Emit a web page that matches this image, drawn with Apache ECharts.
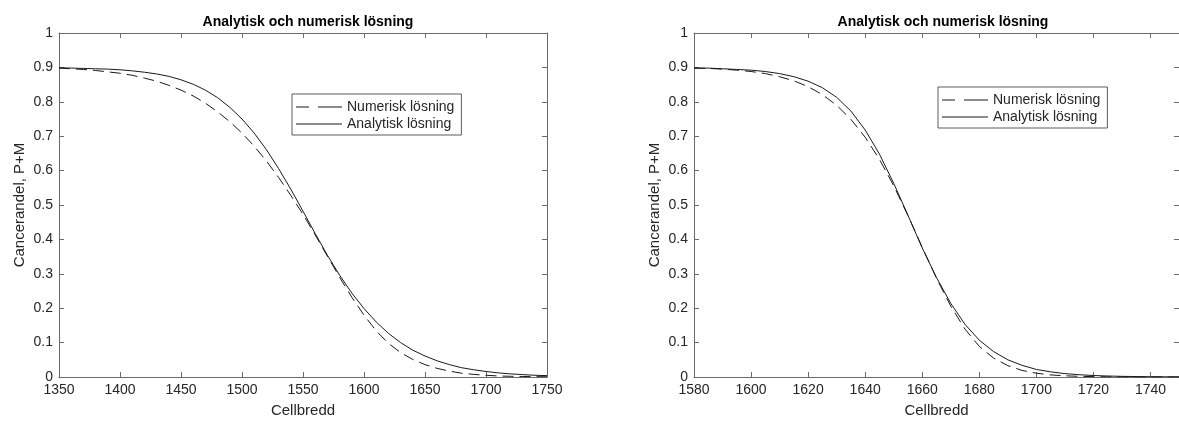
<!DOCTYPE html>
<html>
<head>
<meta charset="utf-8">
<script src="https://cdn.jsdelivr.net/npm/echarts@6/dist/echarts.min.js"></script>
<style>
html,body{margin:0;padding:0;background:#fff;}
#chart{width:1179px;height:423px;}
</style>
</head>
<body>
<div id="chart"></div>
<script>
// ---- data ----
const titleText = 'Analytisk och numerisk lösning';
const xName = 'Cellbredd';
const yName = 'Cancerandel, P+M';
const seriesNames = ['Numerisk lösning', 'Analytisk lösning'];

// left panel
const xLeft = [1350,1360,1370,1380,1390,1400,1410,1420,1430,1440,1450,1460,1470,1480,1490,1500,1510,1520,1530,1540,1550,1560,1570,1580,1590,1600,1610,1620,1630,1640,1650,1660,1670,1680,1690,1700,1710,1720,1730,1740,1750];
const numLeft = [0.898,0.896,0.894,0.891,0.887,0.883,0.877,0.869,0.860,0.848,0.834,0.817,0.796,0.771,0.742,0.709,0.671,0.628,0.580,0.528,0.473,0.413,0.351,0.290,0.232,0.180,0.134,0.098,0.071,0.051,0.036,0.025,0.017,0.011,0.0075,0.005,0.003,0.002,0.0015,0.001,0.0007];
const anaLeft = [0.899,0.898,0.897,0.896,0.895,0.893,0.890,0.886,0.881,0.874,0.864,0.851,0.834,0.812,0.784,0.750,0.709,0.661,0.606,0.546,0.482,0.417,0.354,0.296,0.244,0.199,0.160,0.127,0.100,0.078,0.061,0.047,0.036,0.027,0.021,0.016,0.012,0.009,0.007,0.005,0.004];

// right panel
const xRight = [1580,1585,1590,1595,1600,1605,1610,1615,1620,1625,1630,1635,1640,1645,1650,1655,1660,1665,1670,1675,1680,1685,1690,1695,1700,1705,1710,1715,1720,1725,1730,1735,1740,1745,1750];
const numRight = [0.898,0.897,0.895,0.892,0.888,0.882,0.873,0.861,0.844,0.821,0.790,0.749,0.697,0.633,0.556,0.469,0.377,0.287,0.206,0.139,0.089,0.055,0.033,0.019,0.011,0.006,0.0035,0.002,0.0011,0.0006,0.0003,0.0002,0.0001,0.0001,0.0000];
const anaRight = [0.898,0.898,0.896,0.894,0.892,0.888,0.882,0.873,0.860,0.841,0.813,0.773,0.718,0.648,0.563,0.470,0.375,0.289,0.214,0.153,0.107,0.074,0.050,0.034,0.022,0.015,0.0099,0.0066,0.0043,0.0029,0.0019,0.0013,0.0008,0.0006,0.0004];

const yTicks = {min:0, max:1, interval:0.1};
const xLeftRange = {min:1350, max:1750, interval:50};
const xRightRange = {min:1580, max:1750, interval:20};

// ---- chart ----
const FONT = '"Liberation Sans", Arial, Helvetica, sans-serif';
const AXIS = '#6a6a6a';
const TXT = '#262626';
const grids = [
  {left:59, top:33, width:488, height:347},
  {left:694, top:33, width:488, height:347}
];
function pairs(xs, ys){ return xs.map((x,i)=>[x, ys[i]]); }

const xAxes = [], yAxes = [];
[xLeftRange, xRightRange].forEach((r, gi) => {
  xAxes.push({
    type:'value', gridIndex:gi, position:'bottom', min:r.min, max:r.max, interval:r.interval,
    name:xName, nameLocation:'middle', nameGap:26,
    nameTextStyle:{fontFamily:FONT, fontSize:15, color:TXT},
    axisLine:{show:true, onZero:false, lineStyle:{color:AXIS, width:1}},
    axisTick:{show:true, inside:true, length:5, lineStyle:{color:AXIS}},
    axisLabel:{fontFamily:FONT, fontSize:14, color:TXT, margin:6, showMaxLabel: gi===0, formatter:v=>String(v)},
    splitLine:{show:false}
  });
  xAxes.push({
    type:'value', gridIndex:gi, position:'top', min:r.min, max:r.max, interval:r.interval,
    axisLine:{show:true, onZero:false, lineStyle:{color:AXIS, width:1}},
    axisTick:{show:true, inside:true, length:5, lineStyle:{color:AXIS}},
    axisLabel:{show:false}, splitLine:{show:false}
  });
  yAxes.push({
    type:'value', gridIndex:gi, position:'left', min:yTicks.min, max:yTicks.max, interval:yTicks.interval,
    name:yName, nameLocation:'middle', nameGap:32,
    nameTextStyle:{fontFamily:FONT, fontSize:15, color:TXT},
    axisLine:{show:true, onZero:false, lineStyle:{color:AXIS, width:1}},
    axisTick:{show:true, inside:true, length:5, lineStyle:{color:AXIS}},
    axisLabel:{fontFamily:FONT, fontSize:14, color:TXT, margin:6, formatter:v=>String(Math.round(v*10)/10)},
    splitLine:{show:false}
  });
  yAxes.push({
    type:'value', gridIndex:gi, position:'right', min:yTicks.min, max:yTicks.max, interval:yTicks.interval,
    axisLine:{show:true, onZero:false, lineStyle:{color:AXIS, width:1}},
    axisTick:{show:true, inside:true, length:5, lineStyle:{color:AXIS}},
    axisLabel:{show:false}, splitLine:{show:false}
  });
});

function mkSeries(name, data, gi, dashed){
  return {
    type:'line', name:name, data:data, xAxisIndex:gi*2, yAxisIndex:gi*2,
    symbol:'none', smooth:false,
    lineStyle:{color:'#1a1a1a', width:1, type: dashed ? [11,6] : 'solid'},
    itemStyle:{color:'#1a1a1a'},
    emphasis:{disabled:true}, animation:false
  };
}

const DASH_ICON = 'path://M0,0h13v1h-13z M22,0h24v1h-24z';
const SOLID_ICON = 'path://M0,0h46v1h-46z';
function mkLegend(left, top){
  return {
    data:[{name:seriesNames[0], icon:DASH_ICON}, {name:seriesNames[1], icon:SOLID_ICON}],
    orient:'vertical', left:left, top:top,
    itemWidth:46, itemHeight:10, itemGap:3,
    padding:[6,7,4,4], borderColor:'#333', borderWidth:0.8, backgroundColor:'#fff',
    textStyle:{fontFamily:FONT, fontSize:14, color:TXT}, selectedMode:false
  };
}

const option = {
  animation:false,
  backgroundColor:'#fff',
  title:[
    {text:titleText, left:303, top:10, textAlign:'center', textStyle:{fontFamily:FONT, fontSize:14, fontWeight:'bold', color:'#000'}},
    {text:titleText, left:938, top:10, textAlign:'center', textStyle:{fontFamily:FONT, fontSize:14, fontWeight:'bold', color:'#000'}}
  ],
  grid:grids,
  xAxis:xAxes,
  yAxis:yAxes,
  legend:[mkLegend(292, 94), mkLegend(938, 87)],
  series:[
    mkSeries(seriesNames[0], pairs(xLeft, numLeft), 0, true),
    mkSeries(seriesNames[1], pairs(xLeft, anaLeft), 0, false),
    mkSeries(seriesNames[0], pairs(xRight, numRight), 1, true),
    mkSeries(seriesNames[1], pairs(xRight, anaRight), 1, false)
  ]
};
const chart = echarts.init(document.getElementById('chart'), null, {renderer:'canvas'});
chart.setOption(option);
</script>
</body>
</html>
